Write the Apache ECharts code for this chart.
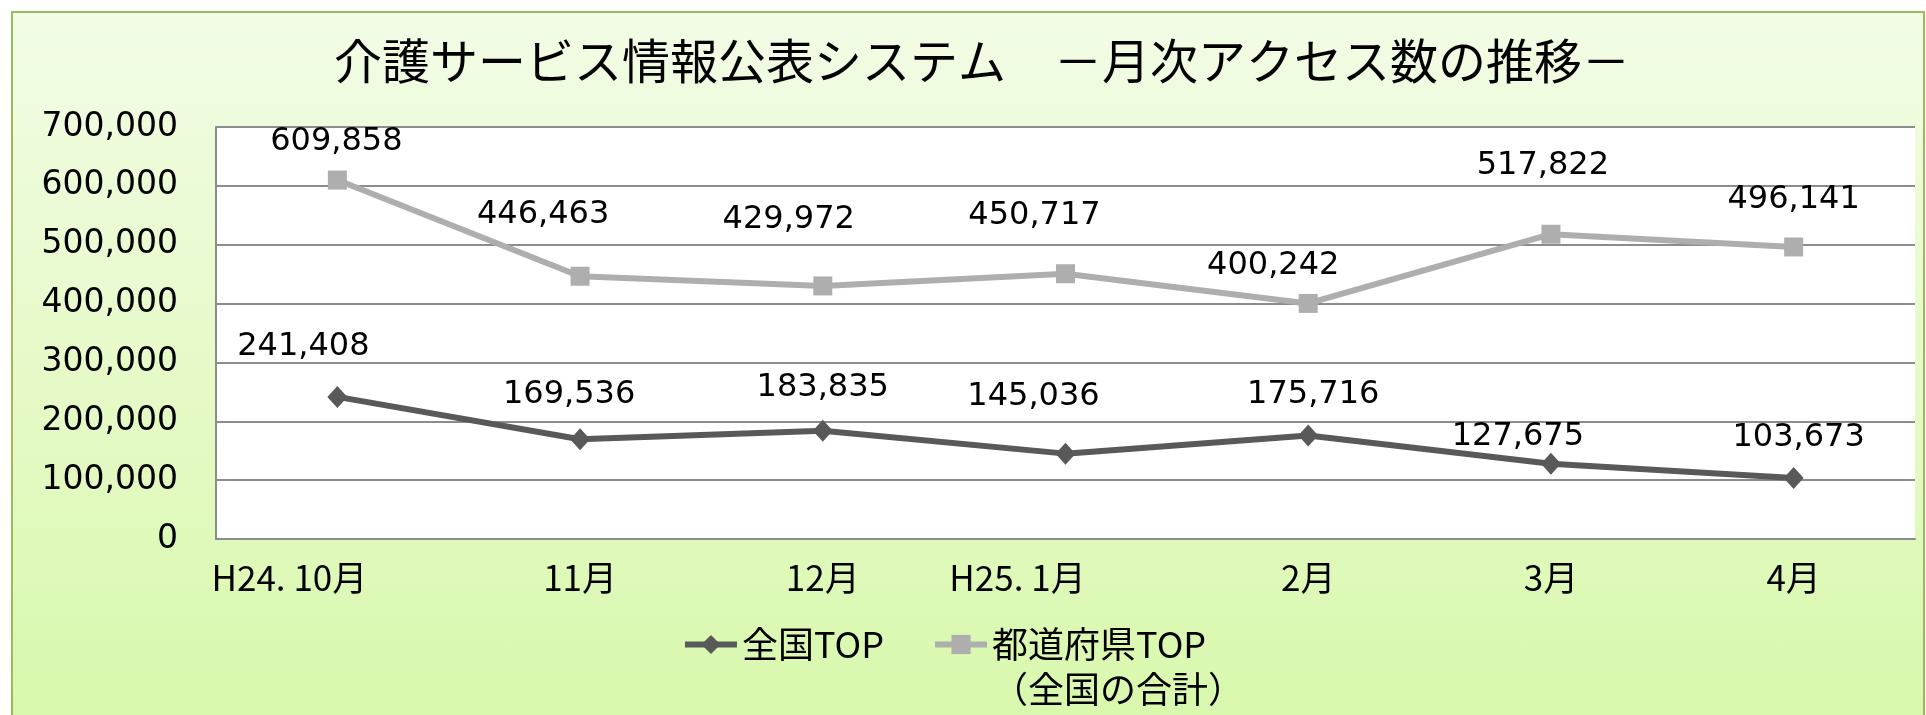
<!DOCTYPE html>
<html>
<head>
<meta charset="utf-8">
<title>介護サービス情報公表システム 月次アクセス数の推移</title>
<script src="https://cdn.jsdelivr.net/npm/echarts@6/dist/echarts.min.js"></script>
<style>
  html, body { margin: 0; padding: 0; background: #fff; overflow: hidden; }
  #panel {
    position: absolute; left: 11px; top: 11px; width: 1914px; height: 720px;
    box-sizing: border-box; border: 2px solid #9BBB59;
    background: linear-gradient(to bottom, #F2FCE6 0%, #E6FAC8 50%, #D8F8AC 100%);
  }
  #chart { position: absolute; left: 0; top: 0; width: 1926px; height: 715px; }
</style>
</head>
<body>
<div id="panel"></div>
<div id="chart"></div>
<script>
// months on the x axis
const months = ['H24. 10月', '11月', '12月', 'H25. 1月', '2月', '3月', '4月']
// 全国TOP
const nationalTop = [241408, 169536, 183835, 145036, 175716, 127675, 103673]
// 都道府県TOP（全国の合計）
const prefTotal = [609858, 446463, 429972, 450717, 400242, 517822, 496141]
const yMin = 0
const yMax = 700000
const yStep = 100000

// data labels were hand placed in the original, nudge them the same way
const nationalNudge = [[-34, -50], [-11, -45], [0, -43], [-32, -57], [5, -41], [-33, -27], [5, -40]]
const prefNudge = [[-1, -38], [-37, -62], [-34, -66], [-31, -58], [-35, -38], [-8, -69], [0, -47]]

function fmt(v) {
  return String(v).replace(/\B(?=(\d{3})+(?!\d))/g, ',')
}

const numFont = 'DejaVu Sans'
const jpFont = '"Noto Sans CJK JP", sans-serif'

function withLabels(values, nudge) {
  return values.map(function (v, i) {
    return {
      value: v,
      label: { offset: nudge[i] }
    }
  })
}

// the two "H2x." labels sit a bit left of their category in the original
const xData = months.map(function (m) {
  if (m.indexOf('.') > 0) {
    return { value: m, textStyle: { padding: [0, 96, 0, 0] } }
  }
  return m
})

const prefName = '都道府県TOP\n（全国の合計）'

const chart = echarts.init(document.getElementById('chart'))
chart.setOption({
  backgroundColor: 'transparent',
  animation: false,
  title: {
    text: '介護サービス情報公表システム　－月次アクセス数の推移－',
    left: 329,
    top: 32,
    textStyle: {
      fontFamily: jpFont,
      fontSize: 48,
      fontWeight: 'normal',
      color: '#000'
    }
  },
  legend: {
    data: ['全国TOP', prefName],
    left: 'center',
    top: 572,
    itemWidth: 52,
    itemHeight: 24,
    itemGap: 48,
    lineStyle: { width: 6 },
    // blank first line keeps the first line of the 2-line name level with the other item
    formatter: function (name) {
      return name === prefName ? '\n' + name : name
    },
    textStyle: {
      fontFamily: jpFont,
      fontSize: 36,
      color: '#000',
      lineHeight: 45
    }
  },
  grid: {
    left: 216,
    right: 11,
    top: 127,
    bottom: 176,
    show: true,
    backgroundColor: '#fff',
    borderWidth: 0
  },
  xAxis: {
    type: 'category',
    data: xData,
    boundaryGap: true,
    axisLine: { lineStyle: { color: '#8C8C8C', width: 2 } },
    axisTick: { show: false },
    axisLabel: {
      margin: 21,
      fontFamily: jpFont,
      fontSize: 35,
      color: '#000'
    }
  },
  yAxis: {
    type: 'value',
    min: yMin,
    max: yMax,
    interval: yStep,
    axisLine: { show: true, lineStyle: { color: '#8C8C8C', width: 2 } },
    axisTick: { show: false },
    splitLine: { lineStyle: { color: '#8C8C8C', width: 2 } },
    axisLabel: {
      margin: 38,
      fontFamily: numFont,
      fontSize: 33,
      color: '#000',
      formatter: fmt
    }
  },
  series: [
    {
      name: '全国TOP',
      type: 'line',
      data: withLabels(nationalTop, nationalNudge),
      symbol: 'diamond',
      symbolSize: [20, 22],
      lineStyle: { color: '#595959', width: 6 },
      itemStyle: { color: '#595959' },
      label: {
        show: true,
        position: 'inside',
        fontFamily: numFont,
        fontSize: 32,
        color: '#000',
        formatter: function (p) { return fmt(p.value) }
      }
    },
    {
      name: prefName,
      type: 'line',
      data: withLabels(prefTotal, prefNudge),
      symbol: 'rect',
      symbolSize: 19,
      lineStyle: { color: '#AEAEAE', width: 6 },
      itemStyle: { color: '#AEAEAE' },
      label: {
        show: true,
        position: 'inside',
        fontFamily: numFont,
        fontSize: 32,
        color: '#000',
        formatter: function (p) { return fmt(p.value) }
      }
    }
  ]
})
</script>
</body>
</html>
